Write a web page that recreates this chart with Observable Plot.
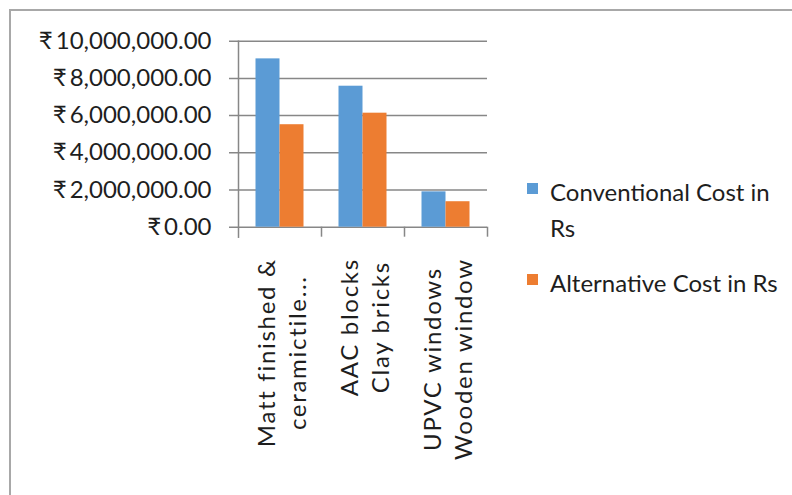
<!DOCTYPE html>
<html>
<head>
<meta charset="utf-8">
<script src="https://cdn.jsdelivr.net/npm/d3@7"></script>
<script src="https://cdn.jsdelivr.net/npm/@observablehq/plot@0.6"></script>
<style>
  html, body { margin: 0; padding: 0; background: #fff; }
  #wrap { position: relative; width: 792px; height: 495px; overflow: hidden; background: #fff;
          font-family: Lato, "Noto Sans", sans-serif; color: #1e1e1e; }
  #border { position: absolute; left: 9px; top: 9px; width: 800px; height: 500px;
            border-top: 2px solid #a8a8a8; border-left: 2px solid #a8a8a8; }
  #chart { position: absolute; left: 0; top: 0; }
  .item { position: absolute; left: 527px; font-size: 24px; line-height: 36px; white-space: nowrap; }
  .item .sw { position: absolute; left: 0; top: 9px; width: 11px; height: 11px; }
  .item .tx { position: absolute; left: 23px; top: 0; }
  g.xlab text { letter-spacing: 1.7px; }
</style>
</head>
<body>
<div id="wrap">
  <div id="border"></div>
  <div id="chart"></div>
  <div class="item" style="top:174px"><div class="sw" style="background:#5B9BD5"></div><div class="tx">Conventional Cost in<br>Rs</div></div>
  <div class="item" style="top:265px"><div class="sw" style="background:#ED7D31"></div><div class="tx">Alternative Cost in Rs</div></div>
</div>
<script>
// ---- data ----
const categories = ["Matt finished &\nceramictile...", "AAC blocks\nClay bricks", "UPVC windows\nWooden window"];
const seriesNames = ["Conventional Cost in Rs", "Alternative Cost in Rs"];
const conventional = [9050000, 7580000, 1900000];
const alternative = [5510000, 6130000, 1370000];
const yTicks = [0, 2000000, 4000000, 6000000, 8000000, 10000000];

// ---- layout ----
const W = 792, H = 495;
const mL = 238, mR = 305, mT = 40.7, mB = 268.3;
const bw = (W - mL - mR) / categories.length;
const step = 24;
const pad = (bw - 2 * step) / 2;
const gray = "#878787";

const convRows = categories.map((c, i) => ({cat: c, v: conventional[i]}));
const altRows = categories.map((c, i) => ({cat: c, v: alternative[i]}));

const fmt = d => "\u20B9" + "\u2009" + d3.format(",.2f")(d);

const chart = Plot.plot({
  width: W, height: H,
  marginLeft: mL, marginRight: mR, marginTop: mT, marginBottom: mB,
  style: {fontFamily: "Lato, 'Noto Sans', sans-serif", color: "#1e1e1e", background: "transparent"},
  x: {domain: categories, padding: 0, axis: null},
  y: {domain: [0, 10000000], axis: null},
  marks: [
    Plot.ruleY(yTicks, {y: d => d, stroke: gray, strokeWidth: 1.5, insetLeft: -9}),
    Plot.frame({anchor: "left", stroke: gray, strokeWidth: 1.5, insetBottom: -10}),
    Plot.ruleX(categories, {x: d => d, dx: bw / 2, stroke: gray, strokeWidth: 1.5, insetTop: H - mT - mB, insetBottom: -10}),
    Plot.barY(convRows, {x: "cat", y: "v", fill: "#5B9BD5", insetLeft: pad, insetRight: pad + step}),
    Plot.barY(altRows, {x: "cat", y: "v", fill: "#ED7D31", insetLeft: pad + step, insetRight: pad}),
    Plot.text(yTicks, {y: d => d, text: fmt, frameAnchor: "left", textAnchor: "end", dx: -27, fontSize: 24, fill: "#1e1e1e"}),
    Plot.text(categories, {x: d => d, text: d => d, frameAnchor: "bottom", rotate: -90, textAnchor: "end",
      lineAnchor: "middle", dx: 0.5, dy: 31, lineHeight: 1.3, fontSize: 24, fill: "#1e1e1e", className: "xlab"})
  ]
});
document.getElementById("chart").append(chart);

// center the lines of each rotated multi-line category label within its block
chart.querySelectorAll("g.xlab text").forEach(t => {
  const spans = Array.from(t.querySelectorAll("tspan"));
  if (!spans.length) return;
  const max = d3.max(spans, s => s.getComputedTextLength());
  t.setAttribute("text-anchor", "middle");
  spans.forEach(s => s.setAttribute("x", -max / 2));
});
</script>
</body>
</html>
